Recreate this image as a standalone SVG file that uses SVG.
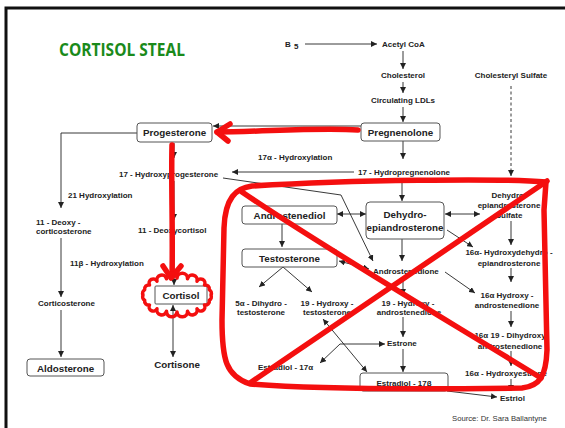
<svg xmlns="http://www.w3.org/2000/svg" width="565" height="428" viewBox="0 0 565 428">
<style>
.l{fill:none;stroke:#222;stroke-width:0.9}
.d{stroke-dasharray:3 2.5}
.t{font-family:"Liberation Sans",Arial,sans-serif;font-weight:bold;font-size:8px;fill:#222}
.c{text-anchor:middle}
.b{font-size:9.8px}
.box{fill:#fff;stroke:#555;stroke-width:1}
.r{fill:none;stroke:#f40f0f;stroke-width:5.5;stroke-linecap:round;stroke-linejoin:round}
.rc{fill:none;stroke:#f40f0f;stroke-width:3.5;stroke-linejoin:round}
</style>
<defs>
<marker id="a" viewBox="0 0 10 10" refX="10" refY="5" markerWidth="6" markerHeight="6" markerUnits="userSpaceOnUse" orient="auto-start-reverse">
<path d="M0 0L10 5L0 10Z" fill="#222"/>
</marker>
</defs>
<rect width="565" height="428" fill="#fff"/>
<path d="M6 428V8H565" fill="none" stroke="#111" stroke-width="3"/>
<text x="59" y="56" font-family="'Open Sans',sans-serif" font-weight="bold" font-size="17" fill="#1a8a1a" textLength="126" lengthAdjust="spacingAndGlyphs">CORTISOL STEAL</text>

<g id="connectors">
<path class="l" d="M305 44H377" marker-end="url(#a)"/>
<path class="l" d="M403 51V69" marker-end="url(#a)"/>
<path class="l" d="M403 82V93" marker-end="url(#a)"/>
<path class="l" d="M403 107V122" marker-end="url(#a)"/>
<path class="l" d="M361 126H213" marker-end="url(#a)"/>
<path class="l" d="M174 143V158" marker-end="url(#a)"/>
<path class="l" d="M403 141V159" marker-end="url(#a)"/>
<path class="l" d="M354 172H232" marker-end="url(#a)"/>
<path class="l d" d="M511 86V176" marker-end="url(#a)"/>
<path class="l" d="M402 179V201" marker-end="url(#a)"/>
<path class="l" d="M223 178L341 195L373 261" marker-end="url(#a)"/>
<path class="l" d="M337 214H366" marker-start="url(#a)" marker-end="url(#a)"/>
<path class="l" d="M445 214H480" marker-start="url(#a)" marker-end="url(#a)"/>
<path class="l" d="M282 224V247" marker-end="url(#a)"/>
<path class="l" d="M402 239V261" marker-end="url(#a)"/>
<path class="l" d="M339 261L369 269" marker-start="url(#a)" marker-end="url(#a)"/>
<path class="l" d="M283 267L259 287" marker-end="url(#a)"/>
<path class="l" d="M283 267L312 292" marker-end="url(#a)"/>
<path class="l" d="M403 277V295" marker-end="url(#a)"/>
<path class="l" d="M403 317V337" marker-end="url(#a)"/>
<path class="l" d="M403 349V372" marker-end="url(#a)"/>
<path class="l" d="M323 319L367 372" marker-start="url(#a)" marker-end="url(#a)"/>
<path class="l" d="M340 344H385" marker-end="url(#a)"/>
<path class="l" d="M340 344L320 363" marker-end="url(#a)"/>
<path class="l" d="M447 230L473 247" marker-end="url(#a)"/>
<path class="l" d="M511 221V245" marker-end="url(#a)"/>
<path class="l" d="M511 268V282" marker-end="url(#a)"/>
<path class="l" d="M445 272L475 293" marker-end="url(#a)"/>
<path class="l" d="M511 311V327" marker-end="url(#a)"/>
<path class="l" d="M511 351V366" marker-end="url(#a)"/>
<path class="l" d="M511 379V391" marker-end="url(#a)"/>
<path class="l" d="M447 391L497 397" marker-end="url(#a)"/>
<path class="l" d="M137 133H61V208" marker-end="url(#a)"/>
<path class="l" d="M61 238V297" marker-end="url(#a)"/>
<path class="l" d="M61 310V357" marker-end="url(#a)"/>
<path class="l" d="M174 181V220" marker-end="url(#a)"/>
<path class="l" d="M174 236V285" marker-end="url(#a)"/>
<path class="l" d="M173 305V357" marker-start="url(#a)" marker-end="url(#a)"/>
</g>

<g id="b5"><text class="t" x="285" y="47">B</text><text class="t" x="294" y="49" font-size="6">5</text></g>
<g id="acetylcoa"><text class="t" x="382" y="47">Acetyl CoA</text></g>
<g id="cholesterol"><text class="t c" x="403" y="78">Cholesterol</text></g>
<g id="ldls"><text class="t c" x="403" y="103">Circulating LDLs</text></g>
<g id="pregnenolone"><rect class="box" x="361" y="123" width="79" height="18" rx="3"/><text class="t c b" x="400.5" y="136">Pregnenolone</text></g>
<g id="progesterone"><rect class="box" x="137" y="123" width="75" height="19" rx="3"/><text class="t c b" x="174.5" y="136">Progesterone</text></g>
<g id="cholsulfate"><text class="t c" x="511" y="78">Cholesteryl Sulfate</text></g>
<g id="hydroxylation17"><text class="t" x="258" y="160">17α - Hydroxylation</text></g>
<g id="ohprog"><text class="t" x="119" y="177">17 - Hydroxyprogesterone</text></g>
<g id="ohpreg"><text class="t" x="358" y="175">17 - Hydropregnenolone</text></g>
<g id="hydroxylation21"><text class="t" x="68" y="198">21 Hydroxylation</text></g>
<g id="doc"><text class="t" x="36" y="225">11 - Deoxy -</text><text class="t" x="36" y="234">corticosterone</text></g>
<g id="deoxycortisol"><text class="t" x="138" y="233">11 - Deoxycortisol</text></g>
<g id="hydroxylation11"><text class="t" x="70" y="266">11β - Hydroxylation</text></g>
<g id="corticosterone"><text class="t" x="38" y="306">Corticosterone</text></g>
<g id="aldosterone"><rect class="box" x="27" y="359" width="77" height="17" rx="3"/><text class="t c b" x="65.5" y="371.5">Aldosterone</text></g>
<g id="cortisol"><rect class="box" x="155" y="286" width="52" height="18" rx="1"/><text class="t c b" x="181" y="299">Cortisol</text></g>
<g id="cortisone"><text class="t c b" x="177" y="368">Cortisone</text></g>
<g id="dhea"><rect class="box" x="366" y="202" width="78" height="37" rx="4"/><text class="t c b" x="405" y="218">Dehydro-</text><text class="t c b" x="405" y="231">epiandrosterone</text></g>
<g id="androstenediol"><rect class="box" x="242" y="206" width="95" height="18" rx="3"/><text class="t c b" x="289.5" y="219">Androstenediol</text></g>
<g id="testosterone"><rect class="box" x="242" y="249" width="95" height="18" rx="3"/><text class="t c b" x="289.5" y="262">Testosterone</text></g>
<g id="androstenedione"><text class="t" x="373" y="274">Androstenedione</text></g>
<g id="dheas"><text class="t c" x="509" y="198">Dehydro-</text><text class="t c" x="509" y="208">epiandrosterone</text><text class="t c" x="509" y="218">Sulfate</text></g>
<g id="ohdhea"><text class="t c" x="509" y="255">16α- Hydroxydehydro -</text><text class="t c" x="509" y="266">epiandrosterone</text></g>
<g id="ohandro16"><text class="t c" x="507" y="298">16α Hydroxy -</text><text class="t c" x="507" y="308">androstenedione</text></g>
<g id="dihydroxy"><text class="t c" x="510" y="338">16α 19 - Dihydroxy</text><text class="t c" x="510" y="349">androstenedione</text></g>
<g id="ohestrone"><text class="t c" x="506" y="376">16α - Hydroxyestrone</text></g>
<g id="estriol"><text class="t" x="500" y="401">Estriol</text></g>
<g id="dht"><text class="t c" x="261" y="306">5α - Dihydro -</text><text class="t c" x="261" y="315">testosterone</text></g>
<g id="ohtesto"><text class="t c" x="327" y="306">19 - Hydroxy -</text><text class="t c" x="327" y="315">testosterone</text></g>
<g id="ohandro19"><text class="t c" x="408" y="306">19 - Hydroxy -</text><text class="t c" x="409" y="315">androstenedione</text></g>
<g id="estrone"><text class="t" x="387" y="346">Estrone</text></g>
<g id="estradiol17a"><text class="t" x="258" y="370">Estradiol - 17α</text></g>
<g id="estradiol17b"><rect class="box" x="360" y="373" width="88" height="18" rx="3"/><text class="t c" x="404" y="386" font-size="10.2">Estradiol - 17β</text></g>
<g id="source"><text x="452" y="421" font-family="'Liberation Sans',Arial,sans-serif" font-size="7.7" fill="#333">Source: Dr. Sara Ballantyne</text></g>

<g id="annotations">
<path class="r" d="M358 130C320 127 260 132 217 132"/>
<path class="r" d="M230 124L217 132L228 141"/>
<path class="r" d="M172 145C171 180 173 230 172 277"/>
<path class="r" d="M163 266L171 278L181 266"/>
<path class="rc" d="M211 295A4 4 0 0 1 209.3 300.3A4 4 0 0 1 204.5 305A4 4 0 0 1 197 308.8A4 4 0 0 1 187.5 311.2A4 4 0 0 1 177 312A4 4 0 0 1 166.5 311.2A4 4 0 0 1 157 308.8A4 4 0 0 1 149.5 305A4 4 0 0 1 144.7 300.3A4 4 0 0 1 143 295A4 4 0 0 1 144.7 289.7A4 4 0 0 1 149.5 285A4 4 0 0 1 157 281.2A4 4 0 0 1 166.5 278.8A4 4 0 0 1 177 278A4 4 0 0 1 187.5 278.8A4 4 0 0 1 197 281.2A4 4 0 0 1 204.5 285A4 4 0 0 1 209.3 289.7A4 4 0 0 1 211 295Z"/>
<path class="r" d="M252 186C236 188 225 198 224 228L222 320C222 360 226 376 250 384C320 390 450 389 522 388C540 386 546 376 547 350L544 210L546 182C500 178 350 180 252 186Z"/>
<path class="r" d="M242 192C320 245 430 310 541 378"/>
<path class="r" d="M250 383L547 181"/>
</g>
</svg>
